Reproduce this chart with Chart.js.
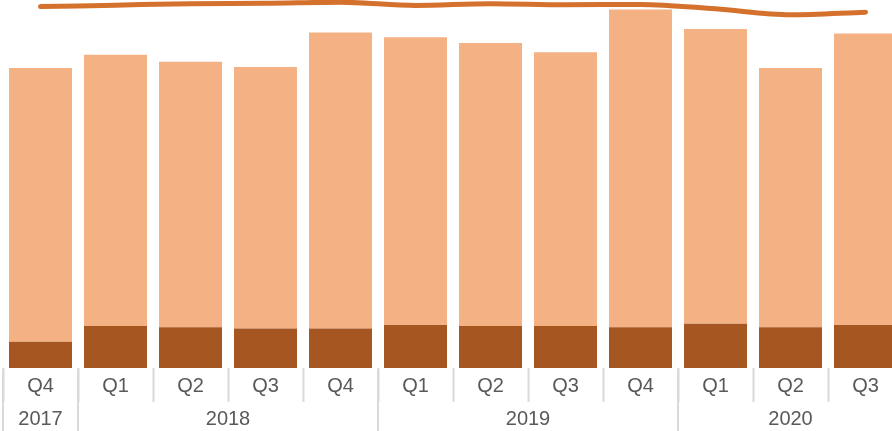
<!DOCTYPE html>
<html>
<head>
<meta charset="utf-8">
<script src="https://cdn.jsdelivr.net/npm/chart.js@4/dist/chart.umd.min.js"></script>
<style>
  html, body { margin: 0; padding: 0; background: #ffffff; overflow: hidden; width: 892px; height: 431px; }
  #wrap { width: 910px; height: 431px; }
</style>
</head>
<body>
<div id="wrap"><canvas id="c" width="910" height="431"></canvas></div>
<script>
// Data
const quarters = ['Q4', 'Q1', 'Q2', 'Q3', 'Q4', 'Q1', 'Q2', 'Q3', 'Q4', 'Q1', 'Q2', 'Q3'];
const years = ['2017', '2018', '2018', '2018', '2018', '2019', '2019', '2019', '2019', '2020', '2020', '2020'];
const baseSeries = [7.1, 11.4, 11.1, 10.7, 10.7, 11.7, 11.4, 11.4, 11.1, 12.0, 11.1, 11.7];
const upperSeries = [74.4, 73.7, 72.1, 71.1, 80.5, 78.2, 76.9, 74.4, 86.3, 80.1, 70.4, 79.2];
const lineSeries = [98.2, 98.6, 99.0, 99.1, 99.4, 98.5, 99.0, 98.7, 98.8, 97.6, 96.0, 96.7];

const labelColor = '#595959';
const sepColor = '#D9D9D9';
const labelFont = { family: '"Liberation Sans", Arial, sans-serif', size: 20 };

const yearGroups = {
  id: 'yearGroups',
  afterDraw(chart) {
    const x = chart.scales.x;
    const ctx = chart.ctx;
    const n = quarters.length;
    const half = (x.getPixelForValue(1) - x.getPixelForValue(0)) / 2;
    const axisTop = chart.chartArea.bottom;
    ctx.save();
    ctx.strokeStyle = sepColor;
    ctx.lineWidth = 2;
    let start = 0;
    for (let i = 0; i <= n; i++) {
      if (i === n || (i > 0 && years[i] !== years[i - 1])) {
        const left = x.getPixelForValue(start) - half;
        const right = x.getPixelForValue(i - 1) + half;
        ctx.fillStyle = labelColor;
        ctx.font = '20px ' + labelFont.family;
        ctx.textAlign = 'center';
        ctx.textBaseline = 'middle';
        ctx.fillText(years[start], (left + right) / 2, 419);
        start = i;
      }
      if (i === 0 || i === n || years[i] !== years[i - 1]) {
        const px = Math.round(x.getPixelForValue(Math.min(i, n - 1)) + (i === n ? half : -half));
        ctx.beginPath();
        ctx.moveTo(px, axisTop + 1);
        ctx.lineTo(px, chart.height);
        ctx.stroke();
      }
    }
    ctx.restore();
  }
};

new Chart(document.getElementById('c'), {
  type: 'bar',
  data: {
    labels: quarters,
    datasets: [
      {
        type: 'line',
        data: lineSeries,
        borderColor: '#D4712D',
        borderWidth: 5,
        pointRadius: 0,
        tension: 0.4,
        cubicInterpolationMode: 'monotone',
        borderCapStyle: 'round',
        fill: false,
        clip: false,
        order: 0,
        stack: 'line'
      },
      {
        data: baseSeries,
        backgroundColor: '#A55621',
        borderWidth: 0,
        stack: 'bars',
        order: 1
      },
      {
        data: upperSeries,
        backgroundColor: '#F4B183',
        borderWidth: 0,
        stack: 'bars',
        order: 1
      }
    ]
  },
  options: {
    responsive: false,
    animation: false,
    events: [],
    layout: { padding: { left: 3, right: 7, top: 0, bottom: 0 } },
    plugins: { legend: { display: false }, tooltip: { enabled: false } },
    datasets: { bar: { categoryPercentage: 1.0, barPercentage: 0.84 } },
    scales: {
      x: {
        type: 'category',
        offset: true,
        stacked: true,
        border: { display: false },
        grid: {
          display: true,
          offset: true,
          drawOnChartArea: false,
          drawTicks: true,
          tickLength: 34,
          tickColor: sepColor,
          tickWidth: 2
        },
        ticks: {
          color: labelColor,
          font: labelFont,
          padding: -28,
          maxRotation: 0,
          autoSkip: false
        },
        afterFit(scale) { scale.height = 63; }
      },
      y: {
        display: false,
        stacked: true,
        min: 0,
        max: 100
      }
    }
  },
  plugins: [yearGroups]
});
</script>
</body>
</html>
